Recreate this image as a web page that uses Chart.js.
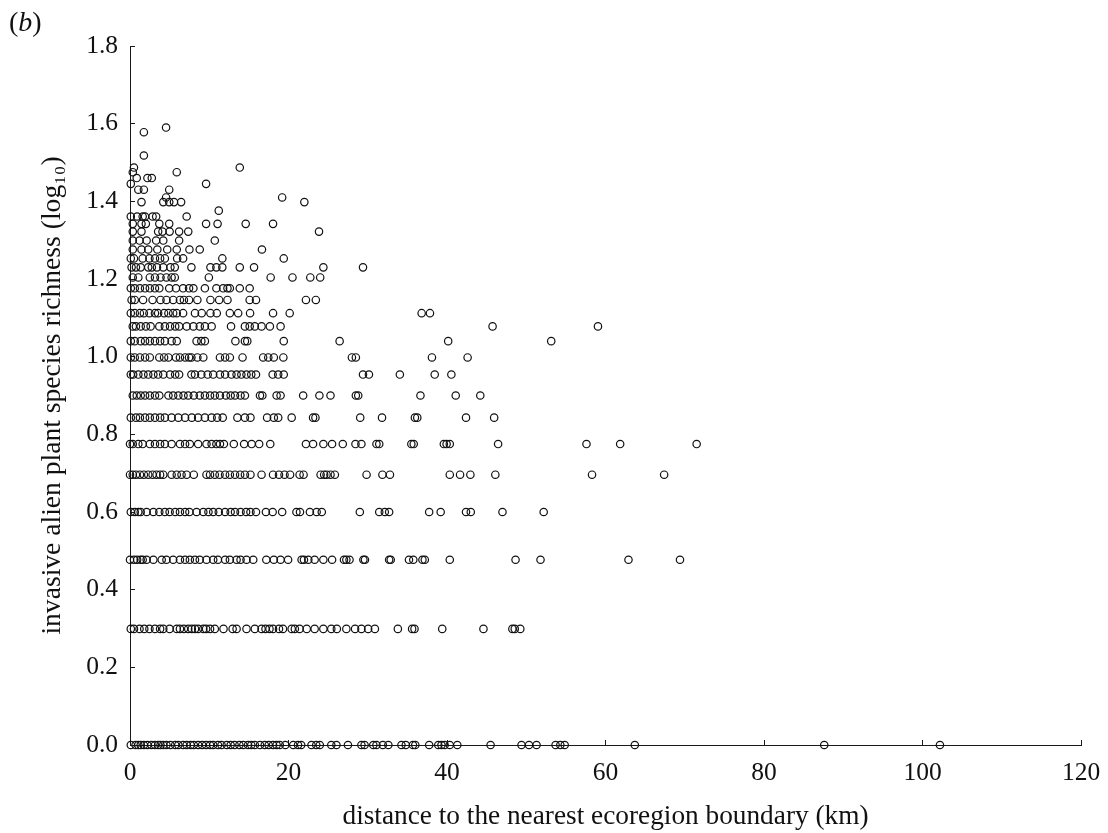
<!DOCTYPE html>
<html><head><meta charset="utf-8">
<script src="https://cdn.jsdelivr.net/npm/chart.js@4"></script>
<style>
html,body{margin:0;padding:0;background:#fff}
#wrap{position:relative;width:1108px;height:833px}
#panel{position:absolute;left:9px;top:6px;font:28px "Liberation Serif",serif;color:#111}
</style></head><body>
<div id="wrap"><canvas id="c" width="1108" height="833"></canvas><div id="panel">(<i>b</i>)</div></div>
<script>
const xTicks=[0,20,40,60,80,100,120];
const yTicks=[0,0.2,0.4,0.6,0.8,1.0,1.2,1.4,1.6,1.8];
const xLabel="distance to the nearest ecoregion boundary (km)";
const yLabel="invasive alien plant species richness (log\u2081\u2080)";

// Each row: richness value (log10), then the distances read for that row
const rich=[0,0.299,0.477,0.60,0.696,0.775,0.843,0.90,0.954,0.998,1.04,1.078,1.112,1.146,1.176,1.204,1.23,1.253,1.276,1.299,1.322,1.342,1.361,1.376,1.398,1.41,1.43,1.445,1.46,1.475,1.487,1.518,1.578,1.59];
const d000=[0.1,0.7,1.05,1.35,1.75,2.2,2.7,3.15,3.55,3.85,4.2,4.6,5.1,5.7,6.1,6.7,7.15,7.65,8.05,8.6,9.1,9.6,10.1,10.5,11.1,11.55,12.2,12.7,13.2,13.8,14.3,14.9,15.3,15.75,16.4,17,17.5,18.05,18.5,18.9,19.6,20.6,21.2,21.6,22.9,23.5,23.95,25.4,26.05,27.5,29.2,29.6,30.7,31.1,31.9,32.6,34.25,34.8,35.7,36,37.75,38.9,39.3,39.7,40.35,41.3,45.5,49.4,50.35,51.3,53.7,54.3,54.85,63.7,87.6,102.2];
const d030=[0.1,0.5,1.2,1.8,2.45,3.15,3.8,4.2,5,5.9,6.3,6.8,7.35,7.8,8.2,8.6,9.25,9.6,10.1,10.7,11.8,12.95,13.45,14.7,15.75,16.6,17.1,17.6,18.05,18.8,19.3,20.4,20.8,21.4,22.3,23.3,24.4,25.4,26.1,27.3,28.4,29.2,30.05,30.9,33.8,35.6,35.9,39.4,44.6,48.25,48.55,49.25];
const d048=[0,0.5,0.9,1.35,1.6,2.1,2.95,4,4.6,5.45,6.3,6.95,7.55,8.2,8.8,9.65,10.5,11.1,12,12.6,13.45,13.95,14.7,15.55,17.2,18.15,19,19.95,21.65,21.95,22.5,23.3,24.4,25.5,27,27.3,27.7,29.45,29.65,32.7,32.9,35.2,35.75,36.9,37.2,40.35,48.65,51.8,62.9,69.4];
const d060=[0.1,0.6,1.05,1.35,2.1,2.95,3.7,4.4,5,5.7,6.3,6.95,7.5,8.4,9.25,9.9,10.5,11.2,12,12.7,13.25,13.95,14.65,15.2,15.9,17.15,18,19.2,21,21.45,22.7,23.55,24.2,29,31.45,32.15,32.7,37.75,39.2,42.4,43,47,52.2];
const d070=[0,0.35,0.75,1.25,1.75,2.3,2.85,3.35,3.8,4.2,5.25,5.9,6.5,7.15,8.05,9.65,10.1,10.7,11.3,12,12.6,13.25,13.9,14.5,15.2,16.6,18.05,18.8,19.5,20.2,21.4,21.9,24.05,24.5,24.8,25.3,25.85,29.85,31.85,32.8,40.35,41.65,42.95,46.1,58.3,67.4];
const d078=[0,0.35,1.05,1.6,2.5,3.15,3.8,4.4,5.25,6.3,6.95,7.55,8.6,9.65,10.3,10.9,11.35,11.85,13.1,14.4,15.35,16.3,17.7,22.2,23.1,24.4,25.5,26.85,28.45,29.2,31.1,31.45,35.5,35.8,39.6,39.95,40.35,46.45,57.6,61.85,71.5];
const d084=[0.1,0.75,1.25,1.9,2.5,3.15,3.8,4.4,5.25,6.1,6.95,7.8,8.6,9.45,10.3,11,11.7,13.55,14.5,15.2,17.3,18.15,18.7,20.4,23.1,23.4,29.05,31.8,35.95,36.25,42.4,45.95];
const d090=[0.35,0.85,1.35,1.9,2.5,3.15,3.7,4.85,5.45,6.1,6.75,7.35,8.05,8.8,9.45,10.1,10.7,11.35,12.1,12.7,13.25,13.95,14.5,16.4,16.7,18.5,19,21.85,23.9,25.3,28.5,28.8,36.65,41.1,44.2];
const d095=[0.1,0.4,1.05,1.7,2.3,2.95,3.55,4.2,5.05,5.7,6.2,7.75,8.2,9,9.8,10.5,11.35,12,12.8,13.45,14.05,14.7,15.3,15.9,18,18.7,19.4,29.4,30.15,34.05,38.45,40.55];
const d100=[0.1,0.6,1.25,1.9,2.5,3.7,4.3,4.85,5.8,6.3,6.95,7.45,7.75,8.5,9.25,11.35,12,12.6,14.2,16.8,17.45,18.15,19.35,28,28.5,38.1,42.6];
const d104=[0.1,0.6,1.35,1.9,2.5,3.15,3.8,4.4,5.25,5.9,8.4,9,9.45,13.3,14.5,14.8,19.4,26.45,40.15,53.15];
const d108=[0.35,0.75,1.35,2,2.6,3.7,4.4,5.05,5.7,6.2,7.15,8,8.8,9.45,10.3,12.75,14.5,15.1,15.75,16.6,17.65,19,45.75,59.05];
const d111=[0.1,0.6,1.25,1.75,2.45,3.15,3.55,4.3,4.85,5.45,5.9,6.7,8.2,9.05,10.15,10.95,12.6,13.65,15.15,18.05,20.15,36.8,37.85];
const d115=[0.2,0.6,1.65,2.85,3.85,4.6,5.45,6.3,6.8,7.45,8.5,10.15,11.25,12.3,15.1,15.9,22.2,23.45];
const d118=[0.1,0.6,1.25,1.9,2.5,3.15,3.7,4.95,5.8,6.7,7.45,8,9.45,10.9,11.75,12.3,12.6,13.85,15.1];
const d120=[0.35,1.05,2.5,3.15,3.85,4.6,5.25,5.65,9.95,17.75,20.5,22.75,24];
const d123=[0.2,0.75,1.35,2.3,2.75,3.4,4.2,5.1,5.65,7.75,10.15,10.9,11.65,13.85,15.65,24.4,29.4];
const d125=[0.1,0.5,1.6,2.45,3.15,3.8,4.4,5.95,6.7,11.65,19.4];
const d128=[0.35,1.45,2.3,3.45,4.7,5.9,7.5,8.8,16.65];
const d130=[0.35,1.2,2.1,3.3,4.2,6.2,10.7];
const d132=[0.35,1.45,3.55,4.1,5,6.2,7.35,23.85];
const d134=[0.35,1.45,2,3.7,4.95,9.6,11.05,14.6,18.05];
const d136=[0.1,0.9,1.6,1.9,2.85,3.3,7.15];
const d138=[11.2];
const d140=[1.45,4.2,4.95,5.55,6.45,22];
const d141=[4.55,19.2];
const d143=[1.05,1.75,4.95];
const d144=[0.1,9.6];
const d146=[0.85,2.2,2.75];
const d147=[0.35,5.9];
const d149=[0.5,13.85];
const d152=[1.75];
const d158=[1.75];
const d159=[4.55];
const rows=[d000,d030,d048,d060,d070,d078,d084,d090,d095,d100,d104,d108,d111,d115,d118,d120,d123,d125,d128,d130,d132,d134,d136,d138,d140,d141,d143,d144,d146,d147,d149,d152,d158,d159];

const pts=[];
rows.forEach((r,i)=>r.forEach(x=>pts.push({x:x,y:rich[i]})));

const FONT="'Liberation Serif', serif";
const INK="#1a1a1a";
new Chart(document.getElementById('c'),{
  type:'scatter',
  data:{datasets:[{data:pts,clip:false,pointStyle:'circle',pointRadius:3.7,pointBorderWidth:1.2,pointBorderColor:'#111',pointBackgroundColor:'rgba(255,255,255,0)',pointHoverRadius:3.7}]},
  options:{
    responsive:false,animation:false,devicePixelRatio:1,
    layout:{padding:{top:46,right:27,left:0,bottom:0}},
    plugins:{legend:{display:false},tooltip:{enabled:false},title:{display:false}},
    scales:{
      x:{type:'linear',min:0,max:120,
        afterBuildTicks:s=>{s.ticks=xTicks.map(v=>({value:v}));},
        afterFit:s=>{s.height=88;s.paddingRight=0;s.paddingLeft=0;},
        grid:{drawOnChartArea:false,color:INK,tickColor:INK,tickLength:-5,tickWidth:1},
        border:{color:INK,width:1},
        ticks:{maxRotation:0,autoSkip:false,padding:18,color:'#111',font:{family:FONT,size:25.5}},
        title:{display:true,text:xLabel,color:'#111',font:{family:FONT,size:27.3},padding:{top:0,bottom:0}}
      },
      y:{type:'linear',min:0,max:1.8,
        afterBuildTicks:s=>{s.ticks=yTicks.map(v=>({value:v}));},
        afterFit:s=>{s.width=130;s.paddingTop=0;s.paddingBottom=0;},
        grid:{drawOnChartArea:false,color:INK,tickColor:INK,tickLength:-5,tickWidth:1},
        border:{color:INK,width:1},
        ticks:{padding:17,autoSkip:false,color:'#111',font:{family:FONT,size:25.5},callback:v=>Number(v).toFixed(1)},
        title:{display:true,text:yLabel,color:'#111',font:{family:FONT,size:27.6},padding:{top:36,bottom:0}}
      }
    }
  }
});
</script></body></html>
